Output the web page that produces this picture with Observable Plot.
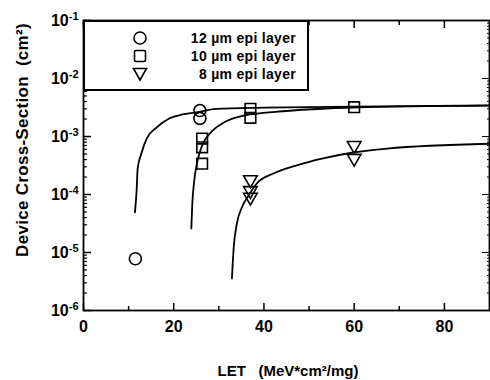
<!DOCTYPE html>
<html><head><meta charset="utf-8">
<script src="https://cdn.jsdelivr.net/npm/d3@7"></script>
<script src="https://cdn.jsdelivr.net/npm/@observablehq/plot@0.6"></script>
<style>
body{margin:0;background:#fff;}
#wrap{position:relative;width:490px;height:380px;font-family:"Liberation Sans",Arial,sans-serif;font-weight:bold;}
#wrap svg text{font-weight:bold;}
#legend{position:absolute;left:83px;top:20px;}
</style></head><body><div id="wrap"></div>
<script>
// ---- data ----
const seriesNames = ["12 \u00b5m epi layer", "10 \u00b5m epi layer", "8 \u00b5m epi layer"];
// measured points
const let12 = [11.5, 25.8, 25.8];
const sigma12 = [7.8e-6, 2.8e-3, 2.05e-3];
const let10 = [26.3, 26.3, 26.3, 37, 37, 60];
const sigma10 = [9.2e-4, 6.5e-4, 3.4e-4, 3.0e-3, 2.1e-3, 3.2e-3];
const let8 = [37, 37, 37, 60, 60];
const sigma8 = [1.8e-4, 1.17e-4, 9.0e-5, 7.0e-4, 4.2e-4];
// fitted curves
const fitLet12 = [11.4, 11.8, 12.0, 12.9, 14.0, 16.2, 19.0, 21.9, 25.0, 29.4, 40, 59.8, 90];
const fitSigma12 = [4.9e-5, 1.27e-4, 2.8e-4, 5.3e-4, 9.2e-4, 1.43e-3, 2.04e-3, 2.4e-3, 2.6e-3, 3.0e-3, 3.15e-3, 3.28e-3, 3.45e-3];
const fitLet10 = [23.9, 24.1, 24.5, 25.2, 26.3, 28.2, 31.1, 35.5, 45, 59.8, 90];
const fitSigma10 = [2.6e-5, 6.5e-5, 1.6e-4, 3.6e-4, 7.0e-4, 1.17e-3, 1.74e-3, 2.3e-3, 2.75e-3, 3.16e-3, 3.4e-3];
const fitLet8 = [32.9, 33.3, 34.0, 35.1, 36.6, 38.4, 42.1, 47.1, 53.1, 59.8, 67.3, 90];
const fitSigma8 = [3.56e-6, 1.22e-5, 3.16e-5, 5.97e-5, 9.6e-5, 1.55e-4, 2.3e-4, 3.16e-4, 4.2e-4, 5.3e-4, 6.2e-4, 7.5e-4];
// axis ticks
const xTicks = [0, 20, 40, 60, 80];
const xMinorTicks = [10, 30, 50, 70];
const yTicks = [1e-6, 1e-5, 1e-4, 1e-3, 1e-2, 1e-1];
const yExponents = ["-6", "-5", "-4", "-3", "-2", "-1"];
const xTitle = "LET   (MeV*cm\u00b2/mg)";
const yTitle = "Device Cross-Section  (cm\u00b2)";

const yMinorTicks = [];
for (const d of yTicks.slice(0, -1)) for (let k = 2; k <= 9; k++) yMinorTicks.push(d * k);

const pts = (xs, ys) => xs.map((x, i) => ({x, y: ys[i]}));
const empty = () => "";
const font = "Liberation Sans, Arial, sans-serif";

const plot = Plot.plot({
  width: 490, height: 380,
  marginLeft: 83, marginRight: 1, marginTop: 20, marginBottom: 70,
  style: {fontFamily: font, fontSize: "16px", color: "#000", background: "#fff", overflow: "visible"},
  x: {domain: [0, 90]},
  y: {type: "log", domain: [1e-6, 1e-1]},
  marks: [
    Plot.frame({stroke: "#000", strokeWidth: 1.8}),
    Plot.axisX({ticks: xTicks, tickSize: 0, tickPadding: 10, tickFormat: d => String(d), label: null, fontSize: 16}),
    Plot.axisX({ticks: xTicks, tickSize: -7, strokeWidth: 1.5, tickFormat: empty, label: null}),
    Plot.axisX({ticks: xMinorTicks, tickSize: -4, strokeWidth: 1.5, tickFormat: empty, label: null}),
    Plot.axisX({anchor: "top", ticks: xTicks, tickSize: -7, strokeWidth: 1.5, tickFormat: empty, label: null}),
    Plot.axisX({anchor: "top", ticks: xMinorTicks, tickSize: -4, strokeWidth: 1.5, tickFormat: empty, label: null}),
    Plot.axisY({ticks: yTicks, tickSize: 0, tickPadding: 5, tickFormat: (d, i) => yExponents[yTicks.indexOf(d)], label: null, fontSize: 16}),
    Plot.axisY({ticks: yTicks, tickSize: -8, strokeWidth: 1.5, tickFormat: empty, label: null}),
    Plot.axisY({ticks: yMinorTicks, tickSize: -4, strokeWidth: 1.2, tickFormat: empty, label: null}),
    Plot.axisY({anchor: "right", ticks: yTicks, tickSize: -8, strokeWidth: 1, tickFormat: empty, label: null}),
    Plot.axisY({anchor: "right", ticks: yMinorTicks, tickSize: -3, strokeWidth: 1, tickFormat: empty, label: null}),
    Plot.line(pts(fitLet12, fitSigma12), {x: "x", y: "y", curve: "monotone-x", stroke: "#000", strokeWidth: 1.8}),
    Plot.line(pts(fitLet10, fitSigma10), {x: "x", y: "y", curve: "monotone-x", stroke: "#000", strokeWidth: 1.8}),
    Plot.line(pts(fitLet8, fitSigma8), {x: "x", y: "y", curve: "monotone-x", stroke: "#000", strokeWidth: 1.8}),
    Plot.dot(pts(let12, sigma12), {x: "x", y: "y", symbol: "circle", r: 6, stroke: "#000", strokeWidth: 1.6, fill: "none"}),
    Plot.dot(pts(let10, sigma10), {x: "x", y: "y", symbol: "square", r: 6, stroke: "#000", strokeWidth: 1.6, fill: "none"}),
    Plot.dot(pts(let8, sigma8), {x: "x", y: "y", symbol: "triangle2", rotate: 180, r: 6.5, stroke: "#000", strokeWidth: 1.6, fill: "none"})
  ]
});

const wrap = document.getElementById("wrap");
wrap.appendChild(plot);
const svg = d3.select(plot);

// superscript exponents on the y tick labels
svg.selectAll('g[aria-label="y-axis tick label"] text').each(function() {
  const exp = this.textContent;
  if (!exp) return;
  const t = d3.select(this);
  t.text(null);
  t.append("tspan").text("10");
  t.append("tspan").attr("dy", "-0.55em").attr("font-size", "11px").text(exp);
});

// axis titles
svg.append("text")
  .attr("transform", "translate(22,140) rotate(-90)")
  .attr("text-anchor", "middle").attr("dominant-baseline", "central")
  .attr("font-size", 17).attr("font-weight", "bold").attr("letter-spacing", "0.3px").style("white-space", "pre")
  .text(yTitle);
svg.append("text")
  .attr("x", 288).attr("y", 376)
  .attr("text-anchor", "middle")
  .attr("font-size", 15).attr("font-weight", "bold").style("white-space", "pre")
  .text(xTitle);

// legend
const lg = d3.select(wrap).append("svg").attr("id", "legend").attr("width", 226).attr("height", 71)
  .style("font-family", font).style("font-weight", "bold");
lg.append("rect").attr("x", 1).attr("y", 1).attr("width", 224).attr("height", 69)
  .attr("fill", "#fff").attr("stroke", "#000").attr("stroke-width", 2);
const rows = [18, 36, 54];
const sx = 57;
lg.append("circle").attr("cx", sx).attr("cy", rows[0]).attr("r", 6).attr("fill", "none").attr("stroke", "#000").attr("stroke-width", 1.6);
lg.append("rect").attr("x", sx - 5.5).attr("y", rows[1] - 5.5).attr("width", 11).attr("height", 11).attr("rx", 1.5)
  .attr("fill", "none").attr("stroke", "#000").attr("stroke-width", 1.6);
lg.append("path").attr("d", `M${sx - 6.5},${rows[2] - 5.5}L${sx + 6.5},${rows[2] - 5.5}L${sx},${rows[2] + 6}Z`)
  .attr("fill", "none").attr("stroke", "#000").attr("stroke-width", 1.6);
seriesNames.forEach((s, i) => {
  lg.append("text").attr("x", 213).attr("y", rows[i]).attr("text-anchor", "end").attr("dominant-baseline", "central")
    .attr("font-size", 14).attr("letter-spacing", "0.3px").text(s);
});
</script></body></html>
